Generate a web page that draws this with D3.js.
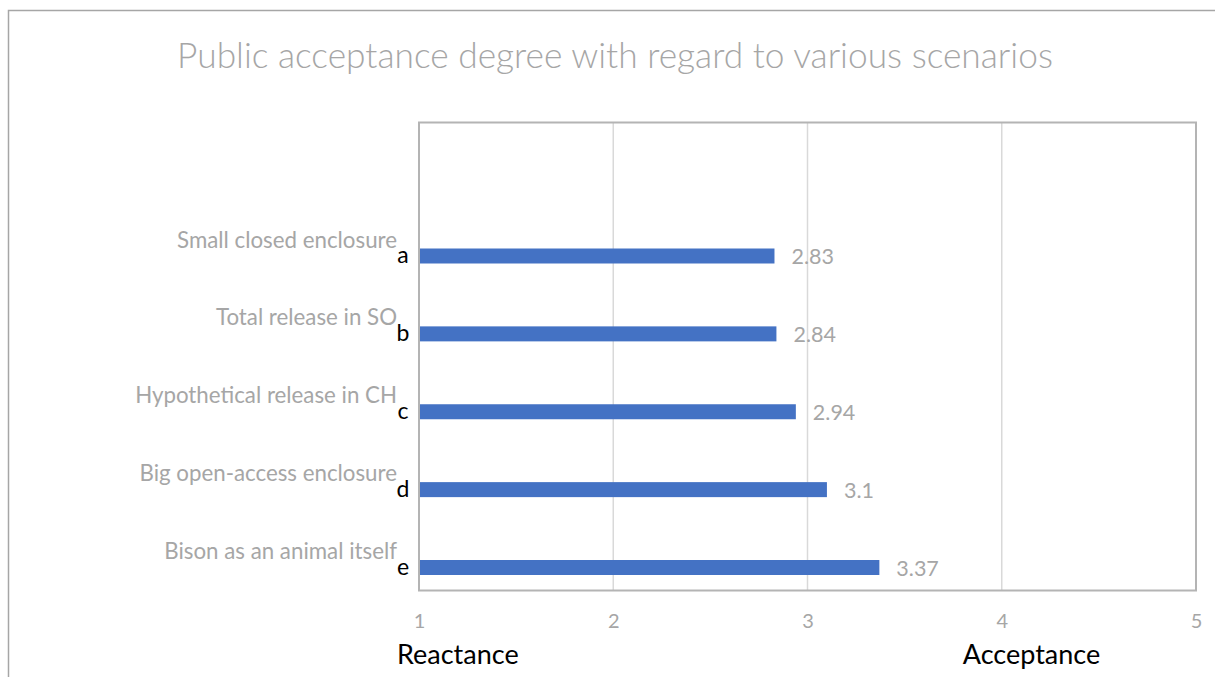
<!DOCTYPE html>
<html>
<head>
<meta charset="utf-8">
<script src="https://cdn.jsdelivr.net/npm/d3@7"></script>
<style>
  html, body { margin: 0; padding: 0; background: #ffffff; }
  svg { display: block; }
  text { font-family: Lato, "Open Sans", sans-serif; }
</style>
</head>
<body>
<script>
// Scenario names (top to bottom), the handwritten marks beside them, and mean scores
const categories = [
  "Small closed enclosure",
  "Total release in SO",
  "Hypothetical release in CH",
  "Big open-access enclosure",
  "Bison as an animal itself"
];
const marks = ["a", "b", "c", "d", "e"];
const values = [2.83, 2.84, 2.94, 3.1, 3.37];
const valueLabels = ["2.83", "2.84", "2.94", "3.1", "3.37"];
const xTicks = [1, 2, 3, 4, 5];
const title = "Public acceptance degree with regard to various scenarios";
const scaleEnds = ["Reactance", "Acceptance"];

const W = 1215, H = 677;
const plot = { left: 419, right: 1196, top: 122.5, bottom: 590.5 };

const svg = d3.select("body").append("svg")
  .attr("width", W).attr("height", H);

svg.append("rect").attr("width", W).attr("height", H).attr("fill", "#ffffff");

// Outer chart border (continues past the right and bottom edges)
svg.append("path")
  .attr("d", `M8.5,${H} V10.5 H${W}`)
  .attr("fill", "none")
  .attr("stroke", "#a6a6a6")
  .attr("stroke-width", 1.5);

const x = d3.scaleLinear().domain([1, 5]).range([plot.left, plot.right]);
const y = d3.scalePoint().domain(categories).range([256, 567.5]);

// Title
svg.append("text")
  .attr("x", 615).attr("y", 67.5)
  .attr("text-anchor", "middle")
  .attr("fill", "#a6a6a6")
  .attr("font-size", 35.3)
  .attr("font-weight", 300)
  .text(title);

// Vertical gridlines
svg.append("g")
  .selectAll("line")
  .data(xTicks.filter(t => t > 1 && t < 5))
  .join("line")
  .attr("x1", d => x(d)).attr("x2", d => x(d))
  .attr("y1", plot.top).attr("y2", plot.bottom)
  .attr("stroke", "#d9d9d9")
  .attr("stroke-width", 1.5);

// Bars
const barH = 15;
svg.append("g")
  .selectAll("rect")
  .data(values)
  .join("rect")
  .attr("x", x(1))
  .attr("y", (d, i) => y(categories[i]) - barH / 2)
  .attr("width", d => x(d) - x(1))
  .attr("height", barH)
  .attr("fill", "#4472c4");

// Plot frame
svg.append("rect")
  .attr("x", plot.left).attr("y", plot.top)
  .attr("width", plot.right - plot.left)
  .attr("height", plot.bottom - plot.top)
  .attr("fill", "none")
  .attr("stroke", "#b4b4b4")
  .attr("stroke-width", 2);

// Value labels
svg.append("g")
  .selectAll("text")
  .data(values)
  .join("text")
  .attr("x", d => x(d) + 17)
  .attr("y", (d, i) => y(categories[i]) + 8)
  .attr("fill", "#a6a6a6")
  .attr("font-size", 21.5)
  .text((d, i) => valueLabels[i]);

// Category labels, sitting just above each bar
svg.append("g")
  .selectAll("text")
  .data(categories)
  .join("text")
  .attr("x", 397)
  .attr("y", d => y(d) - 8.5)
  .attr("text-anchor", "end")
  .attr("fill", "#a6a6a6")
  .attr("font-size", 22.3)
  .text(d => d);

// Handwritten letters
svg.append("g")
  .selectAll("text")
  .data(marks)
  .join("text")
  .attr("x", 403)
  .attr("y", (d, i) => y(categories[i]) + 7)
  .attr("text-anchor", "middle")
  .attr("fill", "#000000")
  .attr("font-family", "'DejaVu Sans', sans-serif")
  .attr("font-size", 23)
  .text(d => d);

// X axis tick labels
const xAxis = d3.axisBottom(x).tickValues(xTicks).tickFormat(d3.format("d")).tickSize(0).tickPadding(0);
const axisG = svg.append("g")
  .attr("transform", `translate(0, ${plot.bottom + 23})`)
  .call(xAxis);
axisG.select(".domain").remove();
axisG.selectAll("text")
  .attr("fill", "#a6a6a6")
  .attr("font-size", 20)
  .attr("font-family", "Lato, sans-serif");

// Scale end captions
svg.append("text")
  .attr("x", x(1) - 22).attr("y", 664)
  .attr("fill", "#000000")
  .attr("font-size", 27)
  .text(scaleEnds[0]);
svg.append("text")
  .attr("x", x(4) - 39).attr("y", 664)
  .attr("fill", "#000000")
  .attr("font-size", 27)
  .text(scaleEnds[1]);
</script>
</body>
</html>
